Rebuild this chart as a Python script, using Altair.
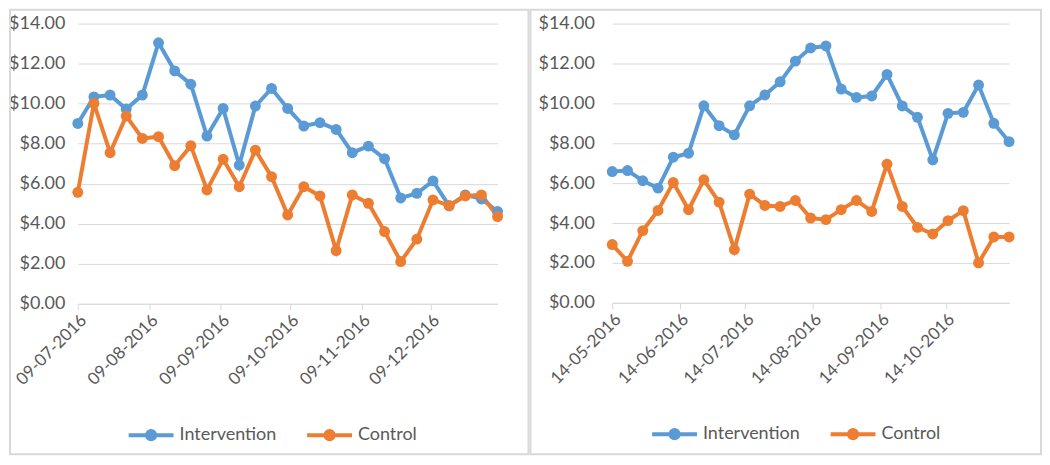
import altair as alt
import pandas as pd

# ---- data ----
series_names = ["Intervention", "Control"]
series_colors = ["#5B9BD5", "#ED7D31"]

left_dates = [
    "2016-07-09", "2016-07-16", "2016-07-23", "2016-07-30", "2016-08-06", "2016-08-13",
    "2016-08-20", "2016-08-27", "2016-09-03", "2016-09-10", "2016-09-17", "2016-09-24",
    "2016-10-01", "2016-10-08", "2016-10-15", "2016-10-22", "2016-10-29", "2016-11-05",
    "2016-11-12", "2016-11-19", "2016-11-26", "2016-12-03", "2016-12-10", "2016-12-17",
    "2016-12-24", "2016-12-31", "2017-01-07",
]
left_intervention = [
    9.01, 10.34, 10.43, 9.73, 10.43, 13.04, 11.64, 10.97, 8.38, 9.76, 6.93, 9.88,
    10.76, 9.76, 8.88, 9.05, 8.71, 7.55, 7.88, 7.25, 5.29, 5.52, 6.14, 4.89, 5.44,
    5.24, 4.61,
]
left_control = [
    5.57, 10.01, 7.55, 9.38, 8.26, 8.35, 6.90, 7.90, 5.69, 7.22, 5.85, 7.68,
    6.35, 4.44, 5.85, 5.39, 2.66, 5.44, 5.02, 3.61, 2.11, 3.23, 5.19, 4.91, 5.39,
    5.44, 4.36,
]
left_ticks = ["2016-07-09", "2016-08-09", "2016-09-09", "2016-10-09", "2016-11-09", "2016-12-09"]

right_dates = [
    "2016-05-14", "2016-05-21", "2016-05-28", "2016-06-04", "2016-06-11", "2016-06-18",
    "2016-06-25", "2016-07-02", "2016-07-09", "2016-07-16", "2016-07-23", "2016-07-30",
    "2016-08-06", "2016-08-13", "2016-08-20", "2016-08-27", "2016-09-03", "2016-09-10",
    "2016-09-17", "2016-09-24", "2016-10-01", "2016-10-08", "2016-10-15", "2016-10-22",
    "2016-10-29", "2016-11-05", "2016-11-12",
]
right_intervention = [
    6.58, 6.63, 6.12, 5.75, 7.30, 7.50, 9.88, 8.88, 8.42, 9.88, 10.42, 11.08,
    12.12, 12.78, 12.88, 10.72, 10.30, 10.37, 11.45, 9.87, 9.30, 7.17, 9.50, 9.55,
    10.92, 9.00, 8.08,
]
right_control = [
    2.92, 2.08, 3.62, 4.63, 6.03, 4.67, 6.17, 5.05, 2.67, 5.45, 4.88, 4.83,
    5.13, 4.25, 4.17, 4.67, 5.13, 4.58, 6.95, 4.83, 3.78, 3.45, 4.12, 4.62,
    2.00, 3.30, 3.30,
]
right_ticks = ["2016-05-14", "2016-06-14", "2016-07-14", "2016-08-14", "2016-09-14", "2016-10-14"]

y_ticks = [0, 2, 4, 6, 8, 10, 12, 14]

FONT = "Lato"
TEXT = "#595959"
GRID = "#d9d9d9"

# legend symbol: line with a disc drawn with strokes only
LEGEND_PATH = (
    "M-1,0L1,0"
    "M-0.09,0A0.09,0.09 0 1,0 0.09,0A0.09,0.09 0 1,0 -0.09,0"
    "M-0.18,0A0.18,0.18 0 1,0 0.18,0A0.18,0.18 0 1,0 -0.18,0"
)


def to_long(dates, iv, ct):
    rows = []
    for name, vals in zip(series_names, [iv, ct]):
        for d, v in zip(dates, vals):
            rows.append({"date": d, "series": name, "cost": v})
    return pd.DataFrame(rows)


def dt(s):
    y, m, d = s.split("-")
    return alt.DateTime(year=int(y), month=int(m), date=int(d), utc=True)


def panel(dates, iv, ct, ticks, w, h, frame, legend_x, ypad):
    df = to_long(dates, iv, ct)
    x = alt.X(
        "date:T",
        scale=alt.Scale(type="utc", domain=[dt(dates[0]), dt(dates[-1])]),
        axis=alt.Axis(
            values=[dt(t) for t in ticks],
            format="%d-%m-%Y",
            labelAngle=-45,
            labelFont=FONT,
            labelFontSize=17,
            labelColor=TEXT,
            labelOverlap=False,
            grid=False,
            domainColor=GRID,
            tickColor=GRID,
            tickSize=6,
            labelPadding=2,
            title=None,
        ),
    )
    y = alt.Y(
        "cost:Q",
        scale=alt.Scale(domain=[0, 14], nice=False, zero=True),
        axis=alt.Axis(
            values=y_ticks,
            format="$.2f",
            labelFont=FONT,
            labelFontSize=18,
            labelColor=TEXT,
            labelOverlap=False,
            grid=True,
            gridColor=GRID,
            domain=False,
            ticks=False,
            labelPadding=ypad,
            title=None,
        ),
    )
    color_scale = alt.Scale(domain=series_names, range=series_colors)
    base = alt.Chart(df)
    lines = base.mark_line(strokeWidth=4).encode(
        x=x,
        y=y,
        color=alt.Color(
            "series:N",
            scale=color_scale,
            sort=series_names,
            legend=alt.Legend(
                orient="none",
                legendX=legend_x,
                legendY=h + 107,
                direction="horizontal",
                title=None,
                symbolType=LEGEND_PATH,
                symbolSize=2025,
                symbolStrokeWidth=4,
                labelFont=FONT,
                labelFontSize=18,
                labelColor=TEXT,
                labelOffset=4,
                columnPadding=22,
            ),
        ),
        detail="series:N",
    )
    points = base.mark_circle(size=120, opacity=1).encode(
        x=x,
        y=y,
        color=alt.Color("series:N", scale=color_scale, legend=None),
    )
    fr = alt.Chart(pd.DataFrame({"f": [0]})).mark_rect(
        fillOpacity=0, stroke=GRID, strokeWidth=2, clip=False
    ).encode(
        x=alt.value(frame[0]), x2=alt.value(frame[1]),
        y=alt.value(frame[2]), y2=alt.value(frame[3]),
    )
    return alt.layer(fr, lines, points).properties(width=w, height=h)


left = panel(left_dates, left_intervention, left_control, left_ticks,
             421, 281, (-68, 452, -14, 432), 49, 13)
right = panel(right_dates, right_intervention, right_control, right_ticks,
              398, 280, (-82, 430, -14, 432), 38, 18)

chart = (
    alt.hconcat(left, right, spacing=0)
    .resolve_scale(color="independent", x="independent", y="independent")
    .resolve_legend(color="independent")
    .properties(padding=0, background="white")
    .configure_view(stroke=None)
)

chart.save("out.html", embed_options={"renderer": "svg", "actions": False})
